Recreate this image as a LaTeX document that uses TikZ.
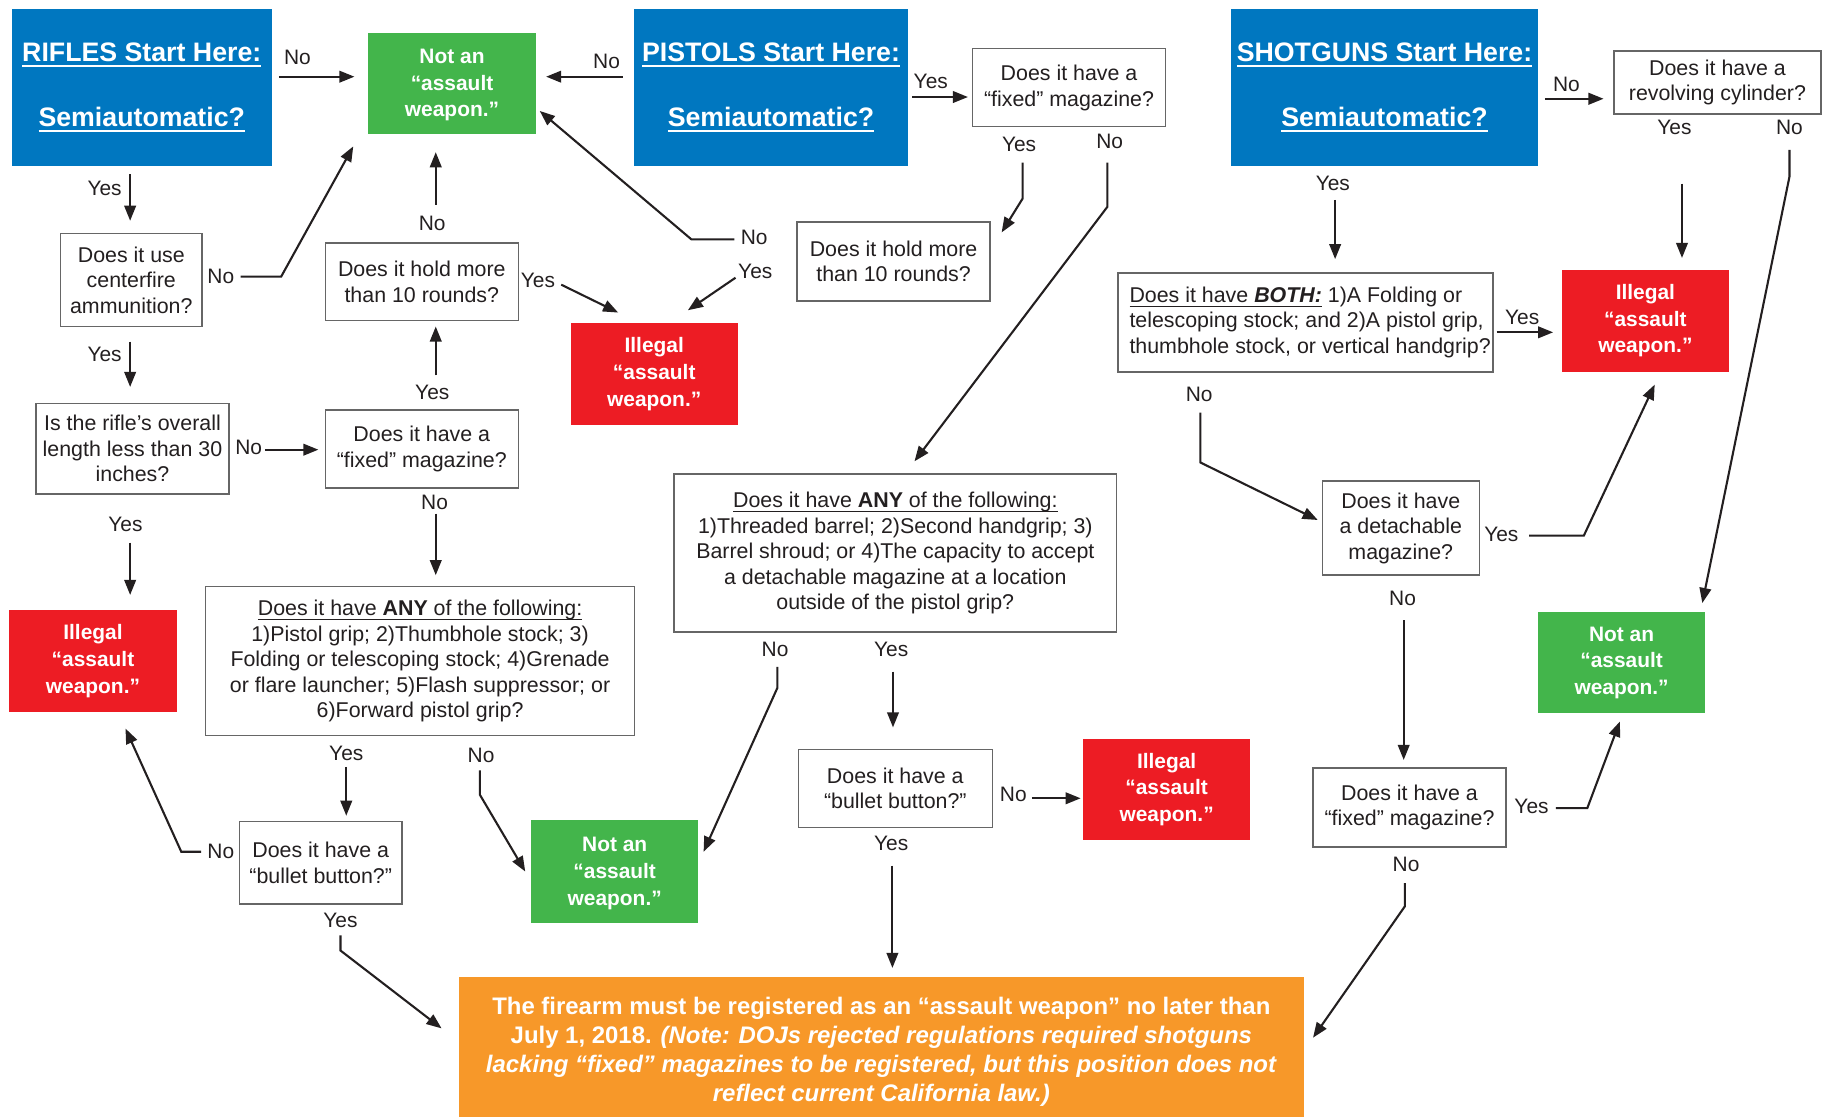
\documentclass[tikz,border=0pt]{standalone}
\usepackage{fontspec}
\setmainfont{Liberation Sans}
\usetikzlibrary{arrows.meta}
\definecolor{cblue}{HTML}{0077C0}
\definecolor{cgreen}{HTML}{43B54B}
\definecolor{cred}{HTML}{ED1C24}
\definecolor{corange}{HTML}{F79829}
\definecolor{ink}{HTML}{231F20}
\newcommand\thickul[1]{\setbox0\hbox{#1}\leavevmode\rlap{\copy0}\rule[-2.4pt]{\wd0}{0.9pt}}
\newcommand\thinul[1]{\setbox0\hbox{#1}\leavevmode\rlap{\copy0}\rule[-1.9pt]{\wd0}{0.5pt}}
\begin{document}
\begin{tikzpicture}[x=0.5pt,y=-0.5pt,
  qbox/.style={draw=black!60, line width=0.6pt, fill=white, text=ink, inner sep=0pt, align=center, font=\fontsize{9.2}{11}\selectfont},
  title/.style={fill=cblue, text=white, inner sep=0pt, align=center, font=\fontsize{11.5}{14}\selectfont\bfseries},
  verdict/.style={text=white, inner sep=0pt, align=center, font=\fontsize{9}{11.5}\selectfont\bfseries, minimum width=72pt, minimum height=44pt},
  okbox/.style={verdict, fill=cgreen},
  badbox/.style={verdict, fill=cred},
  lbl/.style={text=ink, inner sep=0pt, font=\fontsize{9}{11}\selectfont},
  arr/.style={draw=ink, line width=0.9pt, -{Triangle[length=6.5pt,width=5pt]}},
  ]
\useasboundingbox (0,0) rectangle (1568,961);

% start boxes
\node[title, minimum width=112pt, minimum height=67.5pt] (rifles) at (122,75.5) {\thickul{RIFLES Start Here:}\\[14pt]\thickul{Semiautomatic?}};
\node[title, minimum width=117.5pt, minimum height=67.5pt] (pistols) at (663.5,75.5) {\thickul{PISTOLS Start Here:}\\[14pt]\thickul{Semiautomatic?}};
\node[title, minimum width=132.5pt, minimum height=67.5pt] (shotguns) at (1191.5,75.5) {\thickul{SHOTGUNS Start Here:}\\[14pt]\thickul{Semiautomatic?}};

% verdicts
\node[okbox, minimum height=43.5pt, text depth=-1.5pt] (ok1) at (389,71.5) {Not an\\“assault\\weapon.”};
\node[okbox, minimum width=71.5pt, minimum height=43.5pt] (ok2) at (1395.5,570.5) {Not an\\“assault\\weapon.”};
\node[okbox, text depth=-1.5pt] (ok3) at (529,750) {Not an\\“assault\\weapon.”};
\node[badbox] (bad1) at (563,322) {Illegal\\“assault\\weapon.”};
\node[badbox] (bad2) at (1416,276) {Illegal\\“assault\\weapon.”};
\node[badbox] (bad3) at (80,569) {Illegal\\“assault\\weapon.”};
\node[badbox, minimum height=43.5pt] (bad4) at (1004,679.5) {Illegal\\“assault\\weapon.”};
\node[fill=corange, text=white, inner sep=0pt, align=center, minimum width=363.5pt, minimum height=64pt, font=\fontsize{10.3}{12.5}\selectfont\bfseries] (reg) at (758.5,905) {The firearm must be registered as an “assault weapon” no later than\\July 1, 2018. \textit{(Note: DOJs rejected regulations required shotguns}\\\textit{lacking “fixed” magazines to be registered, but this position does not}\\\textit{reflect current California law.)}};

% questions
\node[qbox, minimum width=83pt, minimum height=33.5pt] (pfix) at (920,75.5) {Does it have a\\“fixed” magazine?};
\node[qbox, minimum width=89pt, minimum height=27pt] (rev) at (1478,71) {Does it have a\\revolving cylinder?};
\node[qbox, minimum width=61pt, minimum height=40pt] (cf) at (113,241) {Does it use\\centerfire\\ammunition?};
\node[qbox, minimum width=83pt, minimum height=33.5pt] (rhold) at (363,242.5) {Does it hold more\\than 10 rounds?};
\node[qbox, minimum width=83pt, minimum height=34pt] (phold) at (769,225) {Does it hold more\\than 10 rounds?};
\node[qbox, minimum width=161.5pt, minimum height=42.5pt, align=left] (both) at (1123.5,277.5) {\hspace*{4pt}\thinul{Does it have \textbf{\textit{BOTH:}}} 1)A Folding or\\\hspace*{4pt}telescoping stock; and 2)A pistol grip,\\\hspace*{4pt}thumbhole stock, or vertical handgrip?};
\node[qbox, minimum width=83pt, minimum height=39pt] (len) at (114,386) {Is the rifle’s overall\\length less than 30\\inches?};
\node[qbox, minimum width=83pt, minimum height=33.5pt] (rfix) at (363,386.5) {Does it have a\\“fixed” magazine?};
\node[qbox, minimum width=190.5pt, minimum height=68pt] (pany) at (770.5,476) {\thinul{Does it have \textbf{ANY} of the following:}\\1)Threaded barrel; 2)Second handgrip; 3)\\Barrel shroud; or 4)The capacity to accept\\a detachable magazine at a location\\outside of the pistol grip?};
\node[qbox, minimum width=67.5pt, minimum height=40.5pt] (det) at (1205.5,454.5) {Does it have\\a detachable\\magazine?};
\node[qbox, minimum width=184.5pt, minimum height=64pt] (rany) at (361.5,569) {\thinul{Does it have \textbf{ANY} of the following:}\\1)Pistol grip; 2)Thumbhole stock; 3)\\Folding or telescoping stock; 4)Grenade\\or flare launcher; 5)Flash suppressor; or\\6)Forward pistol grip?};
\node[qbox, minimum width=83.5pt, minimum height=33.5pt] (pbul) at (770.5,678.5) {Does it have a\\“bullet button?”};
\node[qbox, minimum width=83pt, minimum height=34pt] (sfix) at (1213,695) {Does it have a\\“fixed” magazine?};
\node[qbox, minimum width=70pt, minimum height=35.5pt] (rbul) at (276,742.5) {Does it have a\\“bullet button?”};

% labels
\node[lbl] (lrno) at (256,49) {No};
\node[lbl] (lryes) at (90,162) {Yes};
\node[lbl] (lcfno) at (190,238) {No};
\node[lbl] (lcfyes) at (90,305) {Yes};
\node[lbl] (llenno) at (214,385) {No};
\node[lbl] (llenyes) at (108,451) {Yes};
\node[lbl] (lrfixyes) at (372,338) {Yes};
\node[lbl] (lrholdno) at (372,192) {No};
\node[lbl] (lrholdyes) at (463,241) {Yes};
\node[lbl] (lrfixno) at (374,432) {No};
\node[lbl] (lranyyes) at (298,648) {Yes};
\node[lbl] (lranyno) at (414,650) {No};
\node[lbl] (lrbulno) at (190,733) {No};
\node[lbl] (lrbulyes) at (293,792) {Yes};
\node[lbl] (lpno) at (522,53) {No};
\node[lbl] (lpyes) at (801,70) {Yes};
\node[lbl] (lpfixyes) at (877,124) {Yes};
\node[lbl] (lpfixno) at (955,122) {No};
\node[lbl] (lpholdno) at (649,204) {No};
\node[lbl] (lpholdyes) at (650,234) {Yes};
\node[lbl] (lpanyno) at (667,559) {No};
\node[lbl] (lpanyyes) at (767,559) {Yes};
\node[lbl] (lpbulno) at (872,684) {No};
\node[lbl] (lpbulyes) at (767,726) {Yes};
\node[lbl] (lsno) at (1348,73) {No};
\node[lbl] (lsyes) at (1147,158) {Yes};
\node[lbl] (lrevyes) at (1441,110) {Yes};
\node[lbl] (lrevno) at (1540,110) {No};
\node[lbl] (lbothyes) at (1310,273) {Yes};
\node[lbl] (lbothno) at (1032,339) {No};
\node[lbl] (ldetyes) at (1292,460) {Yes};
\node[lbl] (ldetno) at (1207,515) {No};
\node[lbl] (lsfixyes) at (1318,694) {Yes};
\node[lbl] (lsfixno) at (1210,744) {No};

% rifle connectors
\draw[arr] (240,66) -- (305,66);
\draw[arr] (112,150) -- (112,190);
\draw[arr] (207,238) -- (242,238) -- (304,126);
\draw[arr] (112,294) -- (112,333);
\draw[arr] (228,387) -- (274,387);
\draw[arr] (112,467) -- (112,512);
\draw[arr] (375,323) -- (375,281);
\draw[arr] (375,176) -- (375,131);
\draw[arr] (483,245) -- (532,269);
\draw[arr] (375,442) -- (375,495);
\draw[arr] (298,660) -- (298,702);
\draw[arr] (413,663) -- (413,684) -- (452,750);
\draw[arr] (173,733) -- (156,733) -- (108,627);
\draw[arr] (293,805) -- (293,818) -- (380,885);
% pistol connectors
\draw[arr] (536,66) -- (470,66);
\draw[arr] (785,83.5) -- (833,83.5);
\draw[arr] (880,140) -- (880,171) -- (862,200);
\draw[arr] (953,140) -- (953,178) -- (787,397);
\draw[arr] (632,206) -- (595,206) -- (464.5,95.5);
\draw[arr] (633,239) -- (592,267);
\draw[arr] (669,574) -- (669,592) -- (605.5,733);
\draw[arr] (768.5,578) -- (768.5,626);
\draw[arr] (888,687) -- (930,687);
\draw[arr] (768,745) -- (768,833);
% shotgun connectors
\draw[arr] (1329.5,85) -- (1380,85);
\draw[arr] (1149,172) -- (1149,223);
\draw[arr] (1447.5,158) -- (1447.5,222);
\draw[arr] (1540,129) -- (1540,152) -- (1465,519);
\draw[arr] (1288,286) -- (1336.6,286);
\draw[arr] (1033,355) -- (1033,398) -- (1134,447.5);
\draw[arr] (1316,461) -- (1363,461) -- (1424,331);
\draw[arr] (1208,533.6) -- (1208,654);
\draw[arr] (1339,695.5) -- (1366,695.5) -- (1394,621);
\draw[arr] (1209,760) -- (1209,780) -- (1130,893);
\end{tikzpicture}
\end{document}
